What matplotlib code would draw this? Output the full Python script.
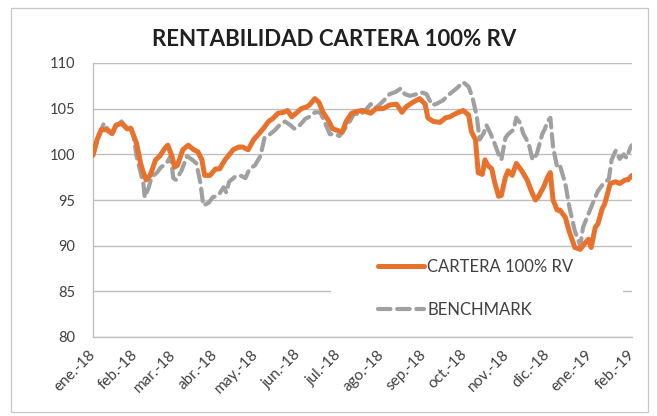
import matplotlib
matplotlib.use("Agg")
import matplotlib.pyplot as plt
import matplotlib.patches as mpatches
import numpy as np

# ---- data (days since 2018-01-01, index values) ----
cartera_days = [0, 3, 6, 10, 14, 17, 21, 25, 28, 32, 35, 37, 39, 42, 46, 49, 53, 55, 58, 60,
                62, 66, 70, 74, 77, 80, 82, 86, 90, 93, 97, 103, 107, 110, 114, 118, 121, 125,
                129, 132, 136, 140, 143, 146, 150, 153, 157, 159, 163, 166, 169, 173, 176, 180,
                183, 186, 190, 194, 198, 204, 208, 213, 218, 223, 227, 230, 235, 240, 244, 246,
                250, 255, 259, 262, 267, 272, 276, 278, 281, 283, 286, 288, 290, 293, 295, 298,
                300, 303, 305, 308, 311, 315, 319, 322, 325, 327, 331, 334, 336, 338, 341, 343,
                347, 350, 354, 358, 361, 364, 366, 369, 371, 374, 376, 380, 384, 387, 391, 393, 396]
cartera_vals = [99.9, 101.6, 102.7, 102.7, 102.3, 103.2, 103.4, 102.8, 102.8, 101.2, 99.0, 98.0,
                97.2, 97.7, 99.4, 99.8, 100.7, 101.0, 99.8, 98.6, 98.8, 100.5, 101.0, 100.5, 100.3,
                99.4, 97.7, 97.7, 98.4, 98.4, 99.4, 100.5, 100.8, 100.8, 100.5, 101.6, 102.1, 102.8,
                103.6, 103.9, 104.5, 104.6, 104.8, 104.1, 104.6, 105.0, 105.2, 105.4, 106.1, 105.7,
                104.6, 103.7, 102.8, 102.6, 102.4, 103.6, 104.5, 104.7, 104.8, 104.5, 105.0, 105.0,
                105.4, 105.5, 104.6, 105.2, 105.7, 106.1, 105.5, 104.0, 103.6, 103.5, 104.0, 104.1,
                104.5, 104.8, 104.3, 102.5, 101.6, 98.0, 97.8, 99.4, 98.8, 98.4, 97.0, 95.4, 95.5,
                97.5, 98.2, 97.7, 99.0, 98.2, 97.2, 96.0, 95.0, 95.3, 96.4, 97.5, 98.0, 95.0, 93.9,
                93.9, 93.1, 91.5, 89.8, 89.6, 90.2, 90.7, 89.8, 92.0, 92.4, 94.0, 94.6, 96.8, 97.0,
                96.8, 97.2, 97.2, 97.7]

bench_days = [0, 4, 8, 11, 14, 17, 21, 24, 27, 30, 32, 35, 37, 38, 41, 43, 47, 50, 54, 57, 59,
              61, 65, 69, 73, 76, 79, 81, 85, 88, 92, 96, 98, 100, 104, 108, 112, 115, 119, 123,
              126, 130, 134, 137, 141, 145, 148, 152, 156, 159, 163, 167, 170, 174, 178, 181, 185,
              189, 192, 196, 200, 204, 207, 211, 215, 218, 222, 226, 229, 233, 238, 241, 245, 249,
              252, 257, 262, 267, 272, 276, 279, 282, 284, 287, 289, 292, 295, 298, 300, 303, 305,
              309, 311, 314, 316, 320, 323, 326, 330, 332, 334, 336, 338, 341, 343, 347, 350, 354,
              358, 360, 363, 366, 369, 371, 375, 379, 381, 384, 387, 390, 392, 395, 396]
bench_vals = [100.0, 101.9, 103.4, 102.7, 102.2, 103.0, 103.6, 103.0, 103.2, 101.9, 99.8, 98.0,
              96.8, 95.3, 96.4, 97.5, 98.0, 98.6, 99.0, 99.8, 97.4, 97.2, 98.2, 99.8, 99.4, 99.0,
              96.8, 94.4, 94.7, 95.3, 95.5, 96.4, 95.8, 97.0, 97.5, 97.7, 97.4, 98.4, 98.8, 99.8,
              101.8, 102.2, 102.7, 103.2, 103.6, 103.2, 102.8, 103.2, 103.9, 104.1, 104.6, 104.6,
              103.6, 102.2, 102.2, 102.0, 102.8, 103.7, 104.5, 104.3, 104.8, 105.5, 105.0, 105.5,
              106.1, 106.6, 106.8, 107.2, 106.6, 106.4, 106.6, 106.8, 106.6, 105.4, 105.5, 105.9,
              106.6, 107.2, 107.9, 107.4, 106.1, 104.1, 101.6, 102.3, 103.2, 102.3, 101.2, 100.0,
              99.4, 101.8, 102.2, 102.7, 104.0, 103.4, 102.3, 101.2, 99.4, 100.0, 102.2, 102.8,
              103.6, 104.0, 100.8, 98.6, 98.8, 96.8, 94.2, 91.6, 90.0, 92.0, 93.1, 94.2, 95.3, 96.0,
              96.8, 97.3, 99.4, 100.4, 99.5, 100.0, 99.6, 100.8, 101.0]

month_days = [0, 31, 59, 90, 120, 151, 181, 212, 243, 273, 304, 334, 365, 396]
month_labels = ["ene.-18", "feb.-18", "mar.-18", "abr.-18", "may.-18", "jun.-18", "jul.-18",
                "ago.-18", "sep.-18", "oct.-18", "nov.-18", "dic.-18", "ene.-19", "feb.-19"]
y_ticks = [80, 85, 90, 95, 100, 105, 110]

title = "RENTABILIDAD CARTERA 100% RV"
series_names = ["CARTERA 100% RV", "BENCHMARK"]

FONT = ["Lato", "DejaVu Sans"]
plt.rcParams["font.family"] = FONT
TXT = "#404040"
ORANGE = "#E8712B"
GREY = "#A0A0A0"
GRID = "#BFBFBF"

W, H = 657, 416
fig = plt.figure(figsize=(W / 100, H / 100), dpi=100)
fig.patch.set_facecolor("white")
# outer chart border
fig.add_artist(mpatches.Rectangle((11 / W, 1 - 412 / H), (648 - 11) / W, (412 - 8) / H,
                                  transform=fig.transFigure, fill=False, edgecolor="#C8C8C8", lw=0.9))

ax_l, ax_r, ax_t, ax_b = 93, 632, 63, 337
ax = fig.add_axes([ax_l / W, 1 - ax_b / H, (ax_r - ax_l) / W, (ax_b - ax_t) / H])
ax.plot(bench_days, bench_vals, color=GREY, lw=3.0, dashes=(3.0, 1.6), solid_capstyle="round",
        dash_capstyle="round", label=series_names[1], zorder=3)
ax.plot(cartera_days, cartera_vals, color=ORANGE, lw=3.6, solid_joinstyle="round",
        solid_capstyle="round", label=series_names[0], zorder=4)

ax.set_xlim(0, 396)
ax.set_ylim(80, 110)
ax.set_yticks(y_ticks)
ax.set_yticklabels([str(v) for v in y_ticks])
ax.set_xticks(month_days)
ax.set_xticklabels(month_labels, rotation=45, ha="right", va="center", rotation_mode="anchor")
ax.tick_params(axis="x", length=0, pad=11, labelsize=11, colors=TXT)
ax.tick_params(axis="y", length=0, pad=13, labelsize=10.5, colors=TXT)
ax.yaxis.grid(True, color=GRID, lw=1.0)
ax.set_axisbelow(True)
for s in ["top", "right"]:
    ax.spines[s].set_visible(False)
for s in ["left", "bottom"]:
    ax.spines[s].set_color(GRID)
    ax.spines[s].set_linewidth(1.0)

fig.text(334 / W, 1 - 40 / H, title, ha="center", va="center", fontsize=16,
         fontweight="bold", color="#202020")

# white legend box (hides gridline behind legend)
axw, axh = ax_r - ax_l, ax_b - ax_t
ax.add_patch(mpatches.Rectangle(((331 - ax_l) / axw, (ax_b - 332) / axh), (623 - 331) / axw,
                                (332 - 252) / axh, transform=ax.transAxes, facecolor="white",
                                edgecolor="none", zorder=2))

handles, labels = ax.get_legend_handles_labels()
order = [1, 0]
leg = ax.legend([handles[i] for i in order], [labels[i] for i in order],
                loc="upper left", bbox_to_anchor=((378 - ax_l) / axw, (ax_b - 259) / axh),
                frameon=False, fontsize=12, labelcolor=TXT, handlelength=2.75,
                handletextpad=0.2, labelspacing=1.6, borderpad=0.0, borderaxespad=0.0)
leg.set_zorder(5)

fig.savefig("out.png", dpi=100)
